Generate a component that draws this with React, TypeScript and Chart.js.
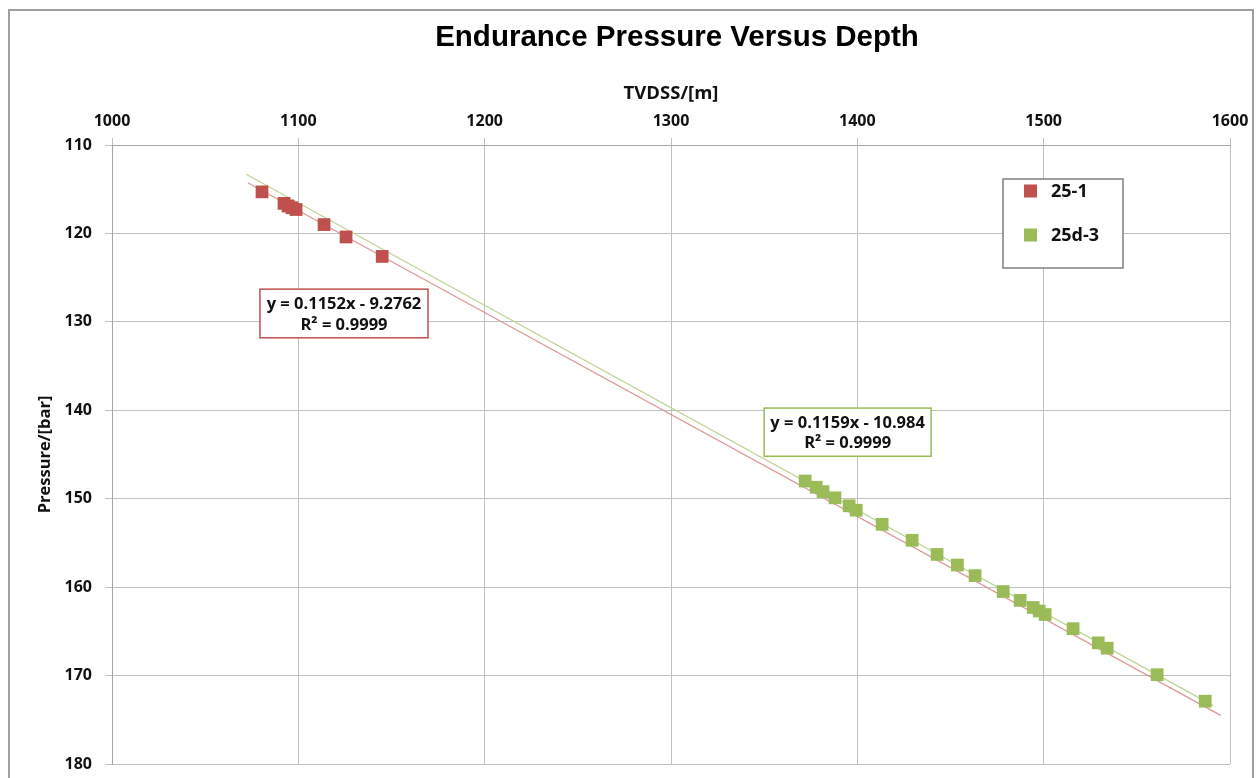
import React, { useEffect, useRef } from "react";
import { Chart, registerables } from "chart.js";

Chart.register(...registerables);

// ---- Data ----
const well251Depth = [1080.5, 1092.3, 1094.5, 1096.6, 1098.8, 1113.8, 1125.6, 1145.0];
const well251Pressure = [115.3, 116.6, 116.9, 117.1, 117.3, 119.0, 120.4, 122.6];

const well25d3Depth = [
  1372.0, 1377.9, 1381.6, 1388.0, 1395.6, 1399.4, 1413.3, 1429.4, 1442.8, 1453.7, 1463.2,
  1478.3, 1487.4, 1494.4, 1497.6, 1500.8, 1515.8, 1529.3, 1534.1, 1560.9, 1586.7,
];
const well25d3Pressure = [
  148.0, 148.7, 149.2, 149.9, 150.8, 151.3, 152.9, 154.7, 156.3, 157.5, 158.7,
  160.5, 161.5, 162.3, 162.7, 163.1, 164.7, 166.3, 166.9, 169.9, 172.9,
];

// trendline end points
const trend251Depth = [1073, 1595];
const trend251Pressure = [114.3, 174.5];
const trend25d3Depth = [1072, 1591];
const trend25d3Pressure = [113.3, 173.4];

const chartTitle = "Endurance Pressure Versus Depth";
const seriesNames = ["25-1", "25d-3"];
const trendLabels = [
  ["y = 0.1152x - 9.2762", "R² = 0.9999"],
  ["y = 0.1159x - 10.984", "R² = 0.9999"],
];

const xTickValues = [1000, 1100, 1200, 1300, 1400, 1500, 1600];
const yTickValues = [110, 120, 130, 140, 150, 160, 170, 180];

const RED = "#c0504d";
const GREEN = "#9bbb59";
const FONT = '"Open Sans", "DejaVu Sans", sans-serif';

const toPoints = (xs: number[], ys: number[]) => xs.map((x, i) => ({ x, y: ys[i] }));

// Annotation boxes anchored in data coordinates
const annotationBoxes = [
  { x0: 1079.4, x1: 1169.6, y0: 126.3, y1: 131.8, color: RED, lines: trendLabels[0] },
  { x0: 1350.0, x1: 1439.6, y0: 139.75, y1: 145.2, color: GREEN, lines: trendLabels[1] },
];

const overlayPlugin = {
  id: "overlay",
  afterDatasetsDraw(chart: any) {
    const { ctx, chartArea } = chart;
    const xs = chart.scales.x;
    const ys = chart.scales.y;
    ctx.save();
    // chart title
    ctx.fillStyle = "#000";
    ctx.font = `bold 29.5px "Liberation Sans", Arial, sans-serif`;
    ctx.textAlign = "center";
    ctx.textBaseline = "middle";
    ctx.fillText(chartTitle, (chartArea.left + chartArea.right) / 2 + 6, 38);
    // equation boxes
    for (const a of annotationBoxes) {
      const l = xs.getPixelForValue(a.x0);
      const r = xs.getPixelForValue(a.x1);
      const t = ys.getPixelForValue(a.y0);
      const b = ys.getPixelForValue(a.y1);
      ctx.fillStyle = "#ffffff";
      ctx.fillRect(l, t, r - l, b - t);
      ctx.strokeStyle = a.color;
      ctx.lineWidth = 1.5;
      ctx.strokeRect(l, t, r - l, b - t);
      ctx.fillStyle = "#111";
      ctx.font = `bold 16.5px ${FONT}`;
      ctx.textAlign = "center";
      ctx.textBaseline = "middle";
      const cx = (l + r) / 2;
      const h = b - t;
      ctx.fillText(a.lines[0], cx, t + h * 0.32);
      ctx.fillText(a.lines[1], cx, t + h * 0.74);
    }
    // legend
    const lx = chartArea.right - 227;
    const ly = chartArea.top + 34;
    const lw = 120;
    const lh = 89;
    ctx.fillStyle = "#ffffff";
    ctx.fillRect(lx, ly, lw, lh);
    ctx.strokeStyle = "#7f7f7f";
    ctx.lineWidth = 1.5;
    ctx.strokeRect(lx, ly, lw, lh);
    const colors = [RED, GREEN];
    const rowY = [ly + 12, ly + 56];
    ctx.font = `bold 18px ${FONT}`;
    ctx.textAlign = "left";
    ctx.textBaseline = "middle";
    for (let i = 0; i < 2; i++) {
      ctx.fillStyle = colors[i];
      ctx.fillRect(lx + 21, rowY[i] - 6.5, 13, 13);
      ctx.fillStyle = "#111";
      ctx.fillText(seriesNames[i], lx + 48, rowY[i] + 1);
    }
    ctx.restore();
  },
};

export default function App() {
  const canvasRef = useRef<HTMLCanvasElement | null>(null);

  useEffect(() => {
    const canvas = canvasRef.current;
    if (!canvas) return;
    const chart = new Chart(canvas, {
      type: "scatter",
      data: {
        datasets: [
          {
            label: seriesNames[0],
            data: toPoints(well251Depth, well251Pressure),
            backgroundColor: RED,
            borderColor: RED,
            pointStyle: "rect",
            pointRadius: 9,
            borderWidth: 0,
          },
          {
            label: seriesNames[1],
            data: toPoints(well25d3Depth, well25d3Pressure),
            backgroundColor: GREEN,
            borderColor: GREEN,
            pointStyle: "rect",
            pointRadius: 9,
            borderWidth: 0,
          },
          {
            label: "trend 25-1",
            data: toPoints(trend251Depth, trend251Pressure),
            showLine: true,
            borderColor: "#dc9896",
            borderWidth: 1.2,
            pointRadius: 0,
          },
          {
            label: "trend 25d-3",
            data: toPoints(trend25d3Depth, trend25d3Pressure),
            showLine: true,
            borderColor: "#bed594",
            borderWidth: 1.2,
            pointRadius: 0,
          },
        ],
      },
      options: {
        animation: false,
        responsive: false,
        devicePixelRatio: 1,
        layout: { padding: { left: 0, right: 26, top: 0, bottom: 14 } },
        plugins: {
          legend: { display: false },
          tooltip: { enabled: false },
          title: { display: false },
        },
        scales: {
          x: {
            type: "linear",
            position: "top",
            min: 1000,
            max: 1600,
            afterBuildTicks: (scale: any) => {
              scale.ticks = xTickValues.map((v) => ({ value: v }));
            },
            afterFit: (scale: any) => {
              scale.height = 145;
              scale.paddingLeft = 0;
              scale.paddingRight = 0;
            },
            ticks: {
              color: "#111",
              font: { family: FONT, size: 16, weight: "bold" },
              padding: 7,
              maxRotation: 0,
              callback: (v: any) => String(v),
            },
            grid: { color: "#c0c0c0", lineWidth: 1, tickLength: 7 },
            border: { color: "#a6a6a6" },
            title: {
              display: true,
              text: "TVDSS/[m]",
              color: "#111",
              font: { family: FONT, size: 18.5, weight: "bold" },
              padding: { top: 83, bottom: 0 },
            },
          },
          y: {
            type: "linear",
            reverse: true,
            min: 110,
            max: 180,
            afterBuildTicks: (scale: any) => {
              scale.ticks = yTickValues.map((v) => ({ value: v }));
            },
            afterFit: (scale: any) => {
              scale.width = 112;
              scale.paddingTop = 0;
              scale.paddingBottom = 0;
            },
            ticks: {
              color: "#111",
              font: { family: FONT, size: 16, weight: "bold" },
              padding: 13,
              callback: (v: any) => String(v),
            },
            grid: { color: "#c0c0c0", lineWidth: 1, tickLength: 7 },
            border: { color: "#a6a6a6" },
            title: {
              display: true,
              text: "Pressure/[bar]",
              color: "#111",
              font: { family: FONT, size: 16.5, weight: "bold" },
              padding: { top: 35, bottom: 0 },
            },
          },
        },
      },
      plugins: [overlayPlugin],
    });
    return () => chart.destroy();
  }, []);

  return (
    <>
      <div
        style={{
          position: "fixed",
          left: 0,
          top: 0,
          width: 1256,
          height: 778,
          background: "#fff",
        }}
      >
        <canvas ref={canvasRef} width={1256} height={778} style={{ display: "block", width: 1256, height: 778 }} />
      </div>
      <div
        style={{
          position: "fixed",
          left: 8,
          top: 9,
          width: 1246,
          height: 800,
          border: "2px solid #a0a0a0",
          boxSizing: "border-box",
          pointerEvents: "none",
        }}
      />
    </>
  );
}
